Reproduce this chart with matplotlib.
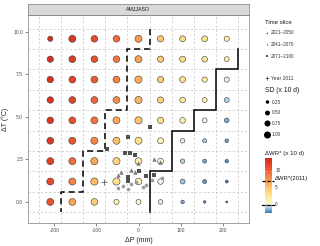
import numpy as np
import matplotlib
matplotlib.use('Agg')
import matplotlib.pyplot as plt
from matplotlib.colors import LinearSegmentedColormap, Normalize

plt.rcParams['font.family'] = ['Liberation Sans', 'DejaVu Sans']

# ---------------- data ----------------
panel_title = "AMJJASO"
dP = [-210, -157.5, -105, -52.5, 0, 52.5, 105, 157.5, 210]
dT = [9.6, 8.4, 7.2, 6.0, 4.8, 3.6, 2.4, 1.2, 0.0]

# ΔWR* (x 10 d), rows = dT (top to bottom), cols = dP
wr = [
    [13.3, 12.8, 11.5, 9.5, 7.2, 4.8, 3.5, 2.8, 1.5],
    [13.3, 12.5, 11.0, 9.0, 6.8, 4.5, 3.3, 2.6, 1.3],
    [13.2, 12.0, 10.5, 8.5, 6.3, 4.5, 3.2, 1.6, -0.2],
    [13.0, 11.8, 10.0, 8.0, 5.9, 4.2, 2.7, 1.0, -0.8],
    [12.8, 11.2, 9.2, 6.5, 5.0, 3.2, 1.4, -0.1, -1.4],
    [12.7, 10.8, 8.3, 5.2, 3.0, 1.0, -0.2, -0.9, -1.6],
    [12.2, 9.6, 6.5, 4.0, 2.2, 0.4, -0.7, -1.5, -2.0],
    [11.5, 8.4, 5.5, 3.2, 1.2, -0.1, -1.0, -1.8, -2.2],
    [11.0, 6.8, 4.5, 1.2, 0.4, -0.3, -1.5, -2.2, -2.4],
]
# SD (x 10 d)
sd = [
    [0.55, 1.00, 0.90, 0.90, 1.00, 0.80, 0.72, 0.70, 0.55],
    [0.80, 0.95, 0.90, 0.90, 1.00, 0.80, 0.72, 0.65, 0.50],
    [0.85, 0.95, 0.95, 0.95, 1.05, 0.80, 0.72, 0.57, 0.55],
    [0.85, 0.95, 0.95, 0.95, 1.05, 0.80, 0.66, 0.50, 0.50],
    [0.90, 0.95, 1.00, 1.00, 1.05, 0.80, 0.66, 0.50, 0.45],
    [0.95, 1.00, 1.00, 1.00, 1.00, 0.72, 0.42, 0.33, 0.28],
    [1.00, 1.00, 1.05, 1.05, 0.95, 0.70, 0.40, 0.33, 0.25],
    [1.00, 1.00, 1.05, 1.05, 0.90, 0.65, 0.50, 0.33, 0.18],
    [1.00, 0.95, 0.90, 0.55, 0.50, 0.45, 0.25, 0.13, 0.08],
]
wr_2011 = 7.0

slice_labels = ["2021\u20132050", "2041\u20132070", "2071\u20132100"]
s2021_dP = [-48, -36, -26, -17, -5, 10, 19, 31, 57]
s2021_dT = [0.8, 0.95, 0.75, 1.05, 1.2, 0.9, 1.0, 1.3, 1.4]
s2041_dP = [-48, -42, -19, -8, -2, 38, 50]
s2041_dT = [1.6, 1.75, 1.85, 1.75, 2.3, 2.55, 2.35]
s2071_dP = [-76, -31, -24, -21, -8, -26, -26, 2, 17, 38, 28]
s2071_dT = [3.1, 2.85, 3.8, 2.85, 2.75, 1.45, 1.25, 1.8, 1.55, 1.6, 4.4]
year2011_dP = [-81]
year2011_dT = [1.15]

sd_legend = [0.25, 0.50, 0.75, 1.00]
cbar_ticks = [0, 5, 10]
x_ticks = [-200, -100, 0, 100, 200]
y_ticks = [0.0, 2.5, 5.0, 7.5, 10.0]

# ---------------- styling ----------------
vmin, vmax = -2.4, 13.8
stops = [(-2.4, '#3f73b0'), (-1.2, '#8dbadb'), (-0.25, '#e4f0f5'), (0, '#f7f7ee'),
         (0.8, '#fff6b8'), (3, '#fee391'), (5.5, '#fdbb63'), (8, '#f98b47'),
         (10.5, '#eb5a31'), (13.8, '#d3291d')]
cmap = LinearSegmentedColormap.from_list('wr', [((v - vmin) / (vmax - vmin), c) for v, c in stops])
norm = Normalize(vmin, vmax)

W, H = 320, 246
fig = plt.figure(figsize=(W / 100, H / 100), dpi=100)

def fx(px):
    return px / W

def fy(py):
    return 1 - py / H

L, R, T, B = 28, 249, 15, 223
ax = fig.add_axes([fx(L), fy(B), fx(R - L), (B - T) / H])
ax.set_xlim(-263, 263)
ax.set_ylim(-1.24, 11.0)

P = np.array(dP, float)
Tt = np.array(dT, float)
WR = np.array(wr, float)
SD = np.array(sd, float)
stepP = abs(P[1] - P[0])
stepT = abs(Tt[0] - Tt[1])

# grid lines at cell boundaries
xb = np.concatenate([P - stepP / 2, [P[-1] + stepP / 2]])
yb = np.concatenate([np.sort(Tt) - stepT / 2, [Tt.max() + stepT / 2]])
for x in xb:
    ax.axvline(x, color='#c0c0c0', lw=0.5, ls=(0, (3, 3)), zorder=1)
for y in yb:
    ax.axhline(y, color='#c0c0c0', lw=0.5, ls=(0, (3, 3)), zorder=1)

# cell points
X, Y = np.meshgrid(P, Tt)
size_k = 25.4
ax.scatter(X.ravel(), Y.ravel(), c=WR.ravel(), cmap=cmap, norm=norm,
           s=size_k * SD.ravel(), edgecolors='#3a3a3a', linewidths=0.4, zorder=3)

# step contour lines derived from the grid
def step_boundary(threshold, trim_edge):
    bounds = []
    for i in range(len(Tt)):
        idx = np.where(WR[i] >= threshold)[0]
        last = idx.max() if len(idx) else -1
        bounds.append(P[0] - stepP / 2 + (last + 1) * stepP)
    bounds = np.array(bounds)
    edge = P[-1] + stepP / 2
    start = 0
    if trim_edge:
        while start + 1 < len(bounds) and bounds[start] >= edge and bounds[start + 1] >= edge:
            start += 1
    xs, ys = [], []
    for i in range(start, len(Tt)):
        xs += [bounds[i], bounds[i]]
        ys += [Tt[i] + stepT / 2, Tt[i] - stepT / 2]
    return xs, ys

zx, zy = step_boundary(0.0, True)
ax.plot(zx, zy, color='black', lw=1.1, solid_joinstyle='miter', zorder=4)
dx, dy = step_boundary(wr_2011, True)
ax.plot(dx, dy, color='black', lw=1.1, ls=(0, (4, 2.5)), zorder=4)

# time-slice points
ax.scatter(s2021_dP, s2021_dT, marker='o', s=7, color='#9c9c9c', linewidths=0, zorder=5)
ax.scatter(s2041_dP, s2041_dT, marker='^', s=10, color='#7a7a7a', linewidths=0, zorder=5)
ax.scatter(s2071_dP, s2071_dT, marker='s', s=8.5, color='#505050', linewidths=0, zorder=5)
ax.scatter(year2011_dP, year2011_dT, marker='+', s=24, color='#4a4a4a', linewidths=0.5, zorder=5)

ax.set_xticks(x_ticks)
ax.set_xticklabels([str(v) for v in x_ticks])
ax.set_yticks(y_ticks)
ax.set_yticklabels([f"{v:.1f}" for v in y_ticks])
ax.tick_params(length=2, width=0.5, color='#555555', labelsize=3.6, labelcolor='#4d4d4d', pad=1.5)
for s in ax.spines.values():
    s.set_color('#7f7f7f')
    s.set_linewidth(0.5)
ax.set_xlabel('\u0394P (mm)', fontsize=5, labelpad=3, color='#222222')
ax.set_ylabel('\u0394T (\u00b0C)', fontsize=5, labelpad=3, color='#222222')

# strip
sax = fig.add_axes([fx(L), fy(T), fx(R - L), 11 / H])
sax.set_facecolor('#d9d9d9')
sax.set_xticks([]); sax.set_yticks([])
for s in sax.spines.values():
    s.set_color('#7f7f7f'); s.set_linewidth(0.5)
sax.text(0.5, 0.5, panel_title, ha='center', va='center', fontsize=3.8, color='#1a1a1a',
         transform=sax.transAxes)

# legend overlay
lg = fig.add_axes([0, 0, 1, 1], zorder=10)
lg.set_xlim(0, W); lg.set_ylim(H, 0); lg.axis('off')
tc = '#1a1a1a'
lg.text(265, 23, 'Time slice', fontsize=4.3, va='center', ha='left', color=tc)
ly = [33, 44, 56]
lg.scatter([266.5], [ly[0]], marker='o', s=1.2, color='#555555', linewidths=0)
lg.scatter([266.5], [ly[1]], marker='^', s=1.6, color='#555555', linewidths=0)
lg.scatter([266.5], [ly[2]], marker='s', s=1.4, color='#555555', linewidths=0)
for yy, lab in zip(ly, slice_labels):
    lg.text(271, yy, lab, fontsize=3.4, va='center', ha='left', color='#333333')
lg.scatter([267], [78], marker='+', s=9, color='#333333', linewidths=0.45)
lg.text(271, 78, 'Year 2011', fontsize=3.6, va='center', ha='left', color='#333333')

lg.text(265, 90, 'SD (x 10 d)', fontsize=4.9, va='center', ha='left', color=tc)
sy = [102, 113, 123.5, 135]
lg.scatter([267.5] * len(sd_legend), sy, s=size_k * np.array(sd_legend), color='black', linewidths=0)
for yy, v in zip(sy, sd_legend):
    lg.text(272, yy, f"{v:.2f}", fontsize=3.4, va='center', ha='left', color='#333333')

lg.text(265, 153, '\u0394WR* (x 10 d)', fontsize=4.4, va='center', ha='left', color=tc)

# colorbar
cb_top, cb_bot = 158, 213
cax = fig.add_axes([fx(265), fy(cb_bot), fx(7), (cb_bot - cb_top) / H], zorder=9)
grad = np.linspace(vmin, vmax, 256).reshape(-1, 1)
cax.imshow(grad, cmap=cmap, norm=norm, aspect='auto', origin='lower', extent=[0, 1, vmin, vmax])
cax.set_xlim(0, 1); cax.set_ylim(vmin, vmax)
cax.axis('off')
cax.plot([-0.4, 1.25], [0, 0], color='black', lw=0.9, clip_on=False)
cax.plot([-0.4, 1.35], [wr_2011, wr_2011], color='black', lw=0.9, ls=(0, (2.5, 1.5)), clip_on=False)
for t in cbar_ticks:
    cax.plot([0, 0.2], [t, t], color='white', lw=0.4)
    cax.plot([0.8, 1], [t, t], color='white', lw=0.4)
    cax.text(1.45, t, str(t), fontsize=3.4, va='center', ha='left', color='#333333',
             transform=cax.transData)
cax.text(1.45, wr_2011 + 0.7, '\u0394WR*(2011)', fontsize=4.3, va='center', ha='left', color=tc,
         transform=cax.transData)

fig.savefig('out.png', dpi=100)
